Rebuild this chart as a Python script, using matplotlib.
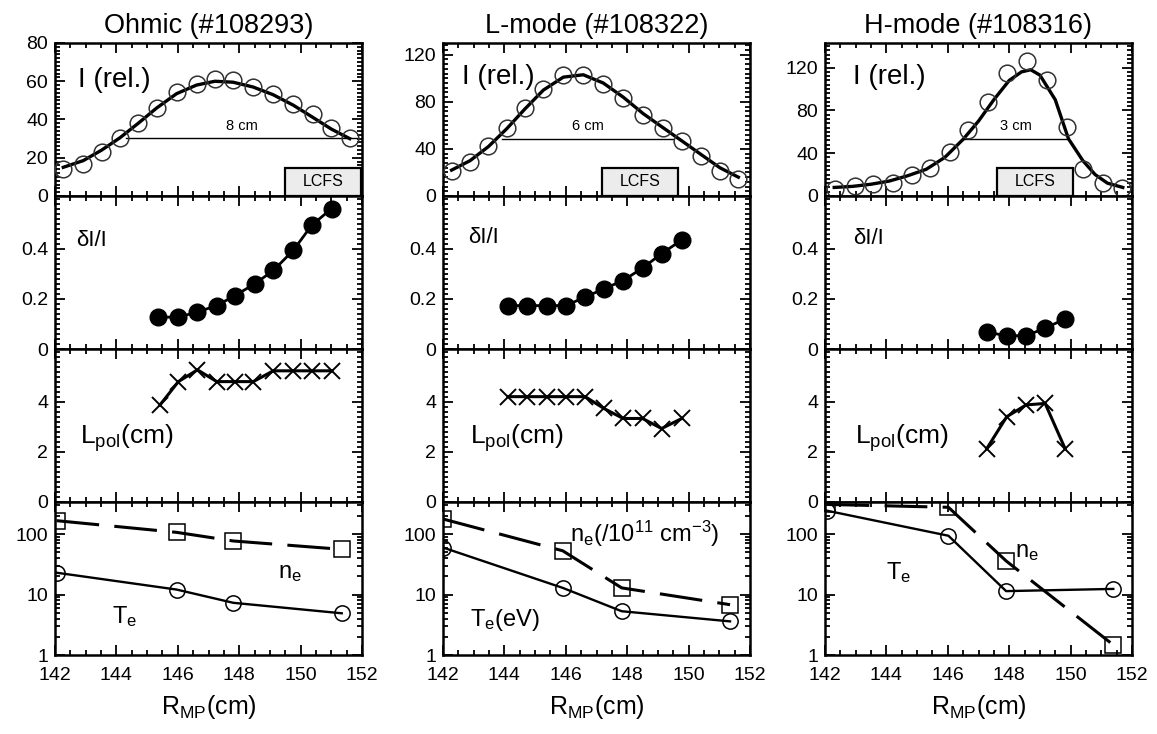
import matplotlib
matplotlib.use("Agg")
import matplotlib.pyplot as plt
from matplotlib.ticker import (FixedLocator, AutoMinorLocator, LogLocator,
                               FuncFormatter, NullFormatter, MultipleLocator)
from matplotlib.patches import Rectangle

plt.rcParams['font.family'] = ['Liberation Sans', 'DejaVu Sans']
plt.rcParams['mathtext.fontset'] = 'custom'
plt.rcParams['mathtext.rm'] = 'Liberation Sans'
plt.rcParams['mathtext.it'] = 'Liberation Sans:italic'
plt.rcParams['mathtext.bf'] = 'Liberation Sans:bold'
plt.rcParams['mathtext.sf'] = 'Liberation Sans'

# ---------------- shots ----------------
titles = ["Ohmic (#108293)", "L-mode (#108322)", "H-mode (#108316)"]

# ---------------- row 1: relative intensity I ----------------
ohm_R = [142.27, 142.92, 143.52, 144.12, 144.71, 145.31, 145.96, 146.61,
         147.21, 147.80, 148.45, 149.10, 149.76, 150.41, 151.00, 151.60]
ohm_I = [14.2, 16.9, 23.1, 30.2, 38.2, 46.2, 54.2, 58.7,
         61.3, 60.4, 56.9, 53.3, 48.0, 42.7, 35.6, 30.2]
ohm_fit = [15.0, 18.5, 24.0, 30.5, 38.0, 46.0, 53.5, 58.0,
           60.0, 59.5, 57.0, 53.0, 47.5, 41.0, 35.0, 30.0]

lmo_R = [142.28, 142.88, 143.48, 144.07, 144.67, 145.27, 145.92, 146.57,
         147.22, 147.87, 148.52, 149.17, 149.77, 150.42, 151.02, 151.62]
lmo_I = [21.4, 29.1, 42.9, 57.7, 74.9, 90.9, 102.9, 102.9,
         94.9, 82.9, 68.6, 57.7, 47.1, 34.3, 21.4, 14.3]
lmo_fit = [22.0, 30.0, 42.0, 57.0, 74.0, 90.0, 101.0, 103.0,
           96.0, 84.0, 70.0, 58.0, 47.0, 35.0, 24.0, 16.0]

hmo_R = [142.33, 142.98, 143.57, 144.22, 144.82, 145.42, 146.07, 146.67,
         147.32, 147.92, 148.57, 149.22, 149.87, 150.41, 151.07, 151.66]
hmo_I = [6.3, 9.4, 11.0, 12.6, 19.5, 25.8, 40.9, 61.4,
         88.2, 115.0, 126.0, 108.7, 64.6, 25.2, 12.6, 7.9]
hmo_fit_R = [142.3, 142.9, 143.5, 144.1, 144.7, 145.3, 145.9, 146.5, 147.0,
             147.5, 148.0, 148.4, 148.7, 149.0, 149.5, 149.93, 150.4, 150.8,
             151.2, 151.7]
hmo_fit = [8, 9, 11, 14, 19, 25, 36, 53, 70, 90, 108, 116, 118, 113, 90,
           53.5, 33, 20, 12, 8]

# FWHM bars: (start, end, level)
fwhm_bars = [(144.30, 151.85, 30.2), (143.91, 149.50, 48.6), (146.50, 149.93, 53.5)]
# LCFS marker boxes (R range)
lcfs_boxes = [(149.50, 151.97), (147.17, 149.66), (147.59, 150.08)]

# ---------------- row 2: fluctuation level dI/I ----------------
ohm_dR = [145.37, 146.02, 146.62, 147.27, 147.86, 148.51, 149.11, 149.76, 150.36, 151.01]
ohm_dI = [0.127, 0.127, 0.147, 0.173, 0.213, 0.260, 0.313, 0.393, 0.493, 0.560]
lmo_dR = [144.13, 144.73, 145.38, 146.00, 146.63, 147.24, 147.87, 148.50, 149.12, 149.78]
lmo_dI = [0.173, 0.173, 0.173, 0.173, 0.207, 0.240, 0.273, 0.323, 0.380, 0.435]
hmo_dR = [147.27, 147.92, 148.55, 149.17, 149.82]
hmo_dI = [0.067, 0.053, 0.053, 0.083, 0.120]

# ---------------- row 3: poloidal correlation length ----------------
ohm_lR = [145.42, 146.02, 146.64, 147.27, 147.86, 148.46, 149.11, 149.76, 150.36, 151.01]
ohm_L = [3.87, 4.80, 5.27, 4.80, 4.80, 4.80, 5.23, 5.23, 5.23, 5.23]
lmo_lR = [144.13, 144.73, 145.38, 146.00, 146.63, 147.24, 147.87, 148.50, 149.12, 149.78]
lmo_L = [4.20, 4.20, 4.20, 4.20, 4.20, 3.73, 3.33, 3.33, 2.93, 3.33]
hmo_lR = [147.27, 147.92, 148.55, 149.17, 149.82]
hmo_L = [2.13, 3.40, 3.87, 3.93, 2.13]

# ---------------- row 4: probe Te and ne ----------------
ohm_pR = [142.05, 145.96, 147.81, 151.34]
ohm_ne = [167, 107, 77, 56]
ohm_Te = [23.0, 12.1, 7.3, 4.9]
lmo_pR = [142.00, 145.90, 147.82, 151.35]
lmo_ne = [178, 53, 12.9, 6.8]
lmo_Te = [60, 12.9, 5.3, 3.6]
hmo_pR = [142.05, 146.02, 147.90, 151.39]
hmo_ne = [310, 278, 36, 1.47]
hmo_Te = [245, 94, 11.4, 12.4]

columns = [
    dict(R=ohm_R, I=ohm_I, fitR=ohm_R, fit=ohm_fit, ylim=(0, 80), yt=[0, 20, 40, 60, 80],
         dR=ohm_dR, dI=ohm_dI, lR=ohm_lR, L=ohm_L, pR=ohm_pR, ne=ohm_ne, Te=ohm_Te),
    dict(R=lmo_R, I=lmo_I, fitR=lmo_R, fit=lmo_fit, ylim=(0, 130), yt=[0, 40, 80, 120],
         dR=lmo_dR, dI=lmo_dI, lR=lmo_lR, L=lmo_L, pR=lmo_pR, ne=lmo_ne, Te=lmo_Te),
    dict(R=hmo_R, I=hmo_I, fitR=hmo_fit_R, fit=hmo_fit, ylim=(0, 143), yt=[0, 40, 80, 120],
         dR=hmo_dR, dI=hmo_dI, lR=hmo_lR, L=hmo_L, pR=hmo_pR, ne=hmo_ne, Te=hmo_Te),
]

W, H = 1157, 734
fig = plt.figure(figsize=(W / 100, H / 100), dpi=100)
lefts = [55, 443, 825]
aw = 307
tops = [43, 196, 349, 502]
ah = 153

fmt = FuncFormatter(lambda v, p: f"{v:g}")
TICK_FS = 14


def style(ax, bottom_labels=False, log=False):
    ax.set_xlim(142, 152)
    ax.xaxis.set_major_locator(MultipleLocator(2))
    ax.xaxis.set_minor_locator(MultipleLocator(0.5))
    if bottom_labels:
        ax.xaxis.set_major_formatter(fmt)
    else:
        ax.xaxis.set_major_formatter(NullFormatter())
    if not log:
        ax.yaxis.set_minor_locator(AutoMinorLocator(10))
    ax.yaxis.set_major_formatter(fmt)
    ax.tick_params(which='both', direction='in', top=True, right=True,
                   labelsize=TICK_FS, width=1.3)
    ax.tick_params(axis='x', pad=9)
    ax.tick_params(axis='y', pad=5)
    ax.tick_params(which='major', length=7)
    ax.tick_params(which='minor', length=3.5)
    for s in ax.spines.values():
        s.set_linewidth(1.8)


for c, col in enumerate(columns):
    axs = []
    for r in range(4):
        ax = fig.add_axes([lefts[c] / W, 1 - (tops[r] + ah) / H, aw / W, ah / H])
        axs.append(ax)
    a1, a2, a3, a4 = axs

    # --- intensity profile with fit ---
    a1.plot(col['fitR'], col['fit'], color='black', lw=2.4, zorder=3)
    a1.plot(col['R'], col['I'], ls='none', marker='o', ms=12, mfc='none',
            mec='#333333', mew=1.1, zorder=4)
    x0, x1, lev = fwhm_bars[c]
    a1.plot([x0, x1], [lev, lev], color='black', lw=1.0, zorder=3)
    a1.text((x0 + x1) / 2, lev + (col['ylim'][1] * 0.035), f"{round(x1 - x0):.0f} cm",
            ha='center', va='bottom', fontsize=10.5)
    b0, b1 = lcfs_boxes[c]
    rect = Rectangle((b0, 0), b1 - b0, 0.185, transform=a1.get_xaxis_transform(),
                     facecolor='#ececec', edgecolor='black', lw=1.6, zorder=6,
                     clip_on=False)
    a1.add_patch(rect)
    a1.text((b0 + b1) / 2, 0.095, "LCFS", transform=a1.get_xaxis_transform(),
            ha='center', va='center', fontsize=11.5, zorder=7)
    a1.set_ylim(*col['ylim'])
    a1.yaxis.set_major_locator(FixedLocator(col['yt']))
    style(a1)
    a1.set_title(titles[c], fontsize=19.5, pad=7)
    lab_pos = [(0.075, 0.757), (0.061, 0.778), (0.092, 0.778)][c]
    a1.text(lab_pos[0], lab_pos[1], "I (rel.)", transform=a1.transAxes,
            fontsize=20, ha='left', va='center')

    # --- fluctuation level ---
    a2.plot(col['dR'], col['dI'], color='black', lw=2.0, marker='o', ms=12,
            mfc='black', mec='black', zorder=3)
    a2.set_ylim(0, 0.61)
    a2.yaxis.set_major_locator(FixedLocator([0, 0.2, 0.4]))
    style(a2)
    dpos = [(0.07, 0.71), (0.082, 0.73), (0.09, 0.725)][c]
    a2.text(dpos[0], dpos[1], "δI/I", transform=a2.transAxes, fontsize=16,
            ha='left', va='center')

    # --- poloidal correlation length ---
    a3.plot(col['lR'], col['L'], color='black', lw=2.2, marker='x', ms=12,
            mew=1.4, zorder=3)
    a3.set_ylim(0, 6.1)
    a3.yaxis.set_major_locator(FixedLocator([0, 2, 4]))
    style(a3)
    lpos = [0.081, 0.088, 0.098][c]
    a3.text(lpos, 0.42, r"L$_{\mathrm{pol}}$(cm)", transform=a3.transAxes,
            fontsize=19, ha='left', va='center')

    # --- probe Te and ne ---
    a4.set_yscale('log')
    a4.plot(col['pR'], col['ne'], color='black', lw=2.2, ls=(0, (14, 5)),
            marker='s', ms=11, mfc='none', mec='black', mew=1.1, zorder=3)
    a4.plot(col['pR'], col['Te'], color='black', lw=1.7, marker='o', ms=11,
            mfc='none', mec='black', mew=1.1, zorder=3)
    a4.set_ylim(1, 340)
    a4.yaxis.set_major_locator(FixedLocator([1, 10, 100]))
    a4.yaxis.set_minor_locator(LogLocator(base=10, subs=range(2, 10)))
    a4.yaxis.set_minor_formatter(NullFormatter())
    style(a4, bottom_labels=True, log=True)
    a4.set_xlabel(r"R$_{\mathrm{MP}}$(cm)", fontsize=18, labelpad=6)

    if c == 0:
        a4.text(149.26, 23, r"n$_{\mathrm{e}}$", fontsize=17, ha='left', va='center')
        a4.text(143.85, 4.4, r"T$_{\mathrm{e}}$", fontsize=17, ha='left', va='center')
    elif c == 1:
        a4.text(146.14, 100, r"n$_{\mathrm{e}}$(/10$^{11}$ cm$^{-3}$)", fontsize=17,
                ha='left', va='center', zorder=5)
        a4.text(142.88, 3.8, r"T$_{\mathrm{e}}$(eV)", fontsize=17, ha='left', va='center')
    else:
        a4.text(148.19, 50, r"n$_{\mathrm{e}}$", fontsize=17, ha='left', va='center')
        a4.text(144.0, 23, r"T$_{\mathrm{e}}$", fontsize=17, ha='left', va='center')

fig.savefig("out.png", dpi=100)
